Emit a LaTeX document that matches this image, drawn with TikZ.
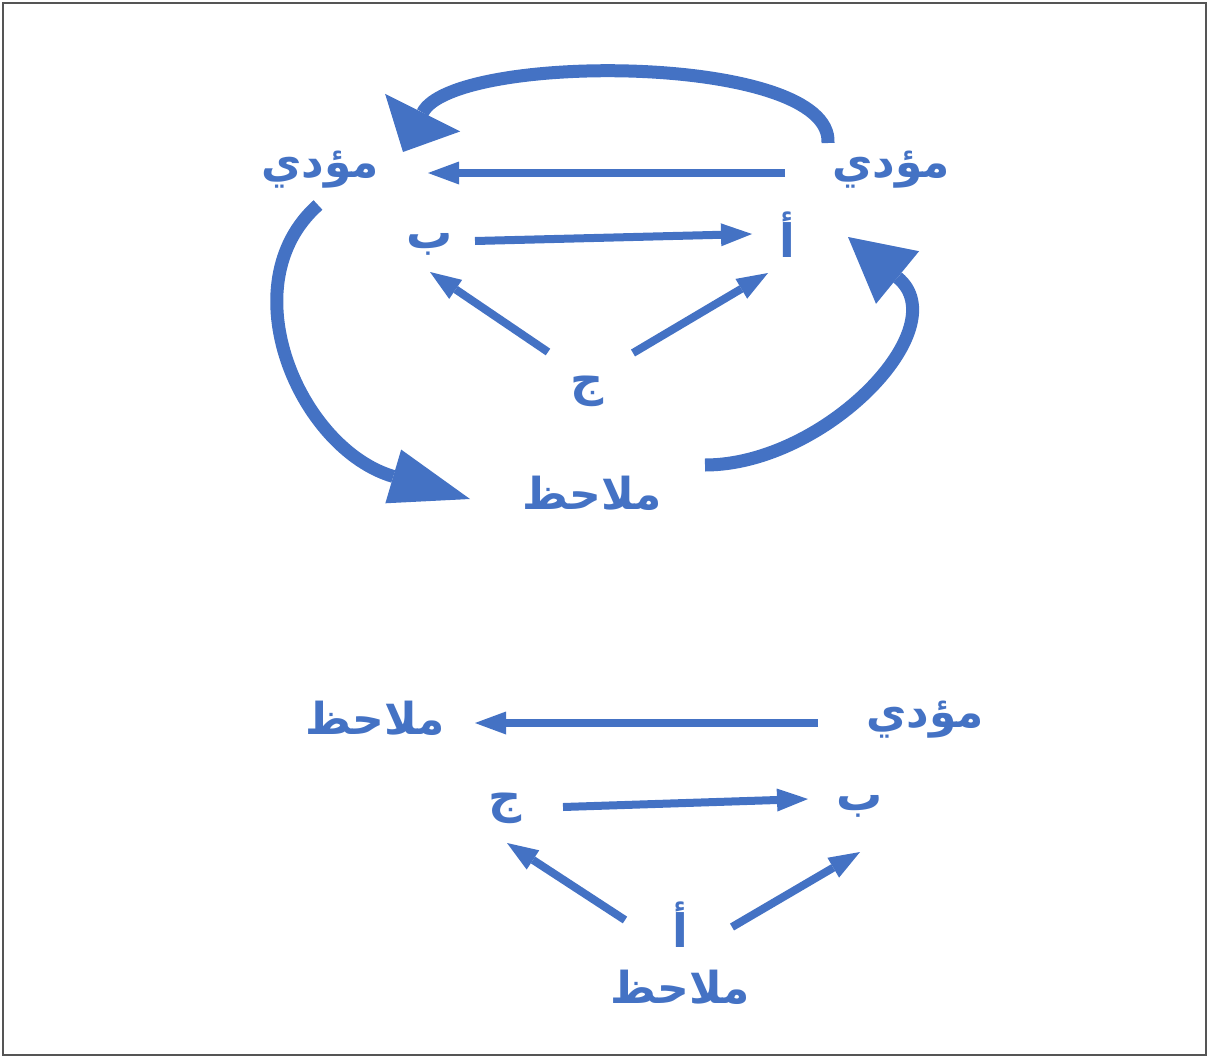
\documentclass[tikz,border=0pt]{standalone}
\usepackage{fontspec}
\newfontfamily\arabicfont[Script=Arabic]{DejaVu Sans}
\TeXXeTstate=1
\usetikzlibrary{positioning,arrows.meta,calc}
\definecolor{roleblue}{HTML}{4472C4}
\definecolor{framegray}{HTML}{555555}
\tikzset{
  term/.style={text=roleblue, inner sep=0pt,
    font=\arabicfont\bfseries\fontsize{44}{44}\selectfont},
  letter/.style={term, font=\arabicfont\bfseries\fontsize{46}{46}\selectfont},
  link/.style={draw=roleblue, line width=8pt,
    -{Triangle[length=31pt,width=23pt,line width=0pt]}},
  cycle/.style={draw=roleblue, line width=13pt},
  frame/.style={draw=framegray, line width=2.5pt}
}
\begin{document}
\begin{tikzpicture}[x=1pt, y=-1pt, node distance=22pt]
    \useasboundingbox (0,0) rectangle (1209,1057);
    \draw[frame] (3,3) rectangle (1206,1055);

    % upper scheme
    \node[term]   (obsL)  at (320,170) {\beginR مؤدي\endR};
    \node[term]   (obsR)  at (891,170) {\beginR مؤدي\endR};
    \node[letter] (ptB)   at (430,244) {\beginR ب\endR};
    \node[letter] (ptA)   at (787,235) {\beginR أ\endR};
    \node[letter] (ptJ)   at (587,391) {\beginR ج\endR};
    \node[term]   (watch) at (592,493) {\beginR ملاحظ\endR};

    \draw[link] ([shift={(-106,3)}]obsR.center) -- ([shift={(108,3)}]obsL.center);
    \draw[link] ([shift={(45,-3)}]ptB.center) -- ([shift={(-35,-1)}]ptA.center);
    \draw[link] ([shift={(-39,-39)}]ptJ.center) -- ([shift={(0,28)}]ptB.center);
    \draw[link] ([shift={(46,-38)}]ptJ.center) -- ([shift={(-19,38)}]ptA.center);

    \draw[cycle, -{Triangle[length=44pt,width=84pt,line width=0pt]}]
      ([shift={(-63,-27)}]obsR.center) .. controls +(5,-90) and +(50,-100) .. ([shift={(83,-18)}]obsL.center);
    \draw[cycle, -{Triangle[length=80pt,width=56pt,line width=0pt]}]
      ([shift={(-2,35)}]obsL.center) .. controls +(-90,80) and +(-170,-50) .. ([shift={(-122,6)}]watch.center);
    \draw[cycle, -{Triangle[length=64pt,width=68pt,line width=0pt]}]
      ([shift={(113,-28)}]watch.center) .. controls +(120,0) and +(110,90) .. ([shift={(61,2)}]ptA.center);

    % lower scheme
    \node[term]   (doer2)  at (925,720) {\beginR مؤدي\endR};
    \node[term]   (watch2) at (375,718) {\beginR ملاحظ\endR};
    \node[letter] (ptJ2)   at (505,808) {\beginR ج\endR};
    \node[letter] (ptB2)   at (860,806) {\beginR ب\endR};
    \node[letter] (ptA2)   at (680,925) {\beginR أ\endR};
    \node[term, below=of ptA2] (watch3) {\beginR ملاحظ\endR};

    \draw[link] ([shift={(-107,3)}]doer2.center) -- ([shift={(100,5)}]watch2.center);
    \draw[link] ([shift={(58,-1)}]ptJ2.center) -- ([shift={(-52,-7)}]ptB2.center);
    \draw[link] ([shift={(-55,-5)}]ptA2.center) -- ([shift={(2,35)}]ptJ2.center);
    \draw[link] ([shift={(52,2)}]ptA2.center) -- ([shift={(0,46)}]ptB2.center);
\end{tikzpicture}
\end{document}
